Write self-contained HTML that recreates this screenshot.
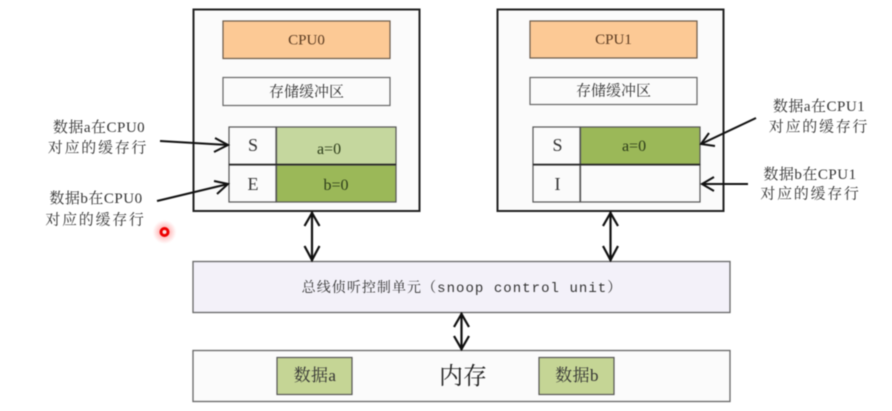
<!DOCTYPE html>
<html>
<head>
<meta charset="utf-8">
<style>
html,body{margin:0;padding:0;background:#fff;width:892px;height:411px;overflow:hidden}
svg{display:block;filter:blur(0.4px)}
text{font-family:"Liberation Serif","Noto Serif CJK SC",serif;fill:#333;text-anchor:middle}
.l1{font-size:15px;letter-spacing:.5px}
.l2{font-size:15px;letter-spacing:1.700px}
</style>
</head>
<body>
<svg width="892" height="411" viewBox="0 0 892 411" xmlns="http://www.w3.org/2000/svg">
<defs>
<radialGradient id="g"><stop offset="0" stop-color="#f55" stop-opacity=".75"/><stop offset=".5" stop-color="#f77" stop-opacity=".4"/><stop offset="1" stop-color="#f88" stop-opacity="0"/></radialGradient>
</defs>
<rect width="892" height="411" fill="#fff"/>

<!-- CPU0 -->
<rect x="193.500" y="9.500" width="226" height="201.500" fill="#fbfbfb" stroke="#222" stroke-width="2"/>
<rect x="223" y="21" width="167" height="37.500" fill="#fcc995" stroke="#6a5a4a" stroke-width="1.200"/>
<text x="306.500" y="44.500" font-size="15" style="fill:#5a3a20">CPU0</text>
<rect x="223" y="77.500" width="167" height="28" fill="#fbfbfb" stroke="#666" stroke-width="1.200"/>
<text x="306.500" y="96.500" font-size="15">存储缓冲区</text>
<rect x="229" y="127" width="47" height="37.500" fill="#fbfbfb" stroke="#555" stroke-width="1.200"/>
<rect x="276.500" y="127" width="119.500" height="37.500" fill="#c5d79e" stroke="#555" stroke-width="1.200"/>
<rect x="229" y="165" width="47" height="37" fill="#fbfbfb" stroke="#555" stroke-width="1.200"/>
<rect x="276.500" y="165" width="119.500" height="37" fill="#9bb858" stroke="#555" stroke-width="1.200"/>
<line x1="229" y1="164.500" x2="396" y2="164.500" stroke="#222" stroke-width="1.500"/>
<text x="253" y="151" font-size="18">S</text>
<text x="253" y="190" font-size="18">E</text>
<text x="329" y="154" font-size="16" style="fill:#2d3d1a">a=0</text>
<text x="336" y="190" font-size="16" style="fill:#2d3d1a">b=0</text>

<!-- CPU1 -->
<rect x="497.500" y="9.500" width="226" height="201.500" fill="#fbfbfb" stroke="#222" stroke-width="2"/>
<rect x="530" y="21" width="167" height="37" fill="#fcc995" stroke="#6a5a4a" stroke-width="1.200"/>
<text x="613.500" y="44" font-size="15" style="fill:#5a3a20">CPU1</text>
<rect x="530" y="77.500" width="167" height="27" fill="#fbfbfb" stroke="#666" stroke-width="1.200"/>
<text x="613.500" y="95.500" font-size="15">存储缓冲区</text>
<rect x="533" y="127" width="47" height="37.500" fill="#fbfbfb" stroke="#555" stroke-width="1.200"/>
<rect x="580.500" y="127" width="119.500" height="37.500" fill="#9bb858" stroke="#555" stroke-width="1.200"/>
<rect x="533" y="165" width="47" height="37" fill="#fbfbfb" stroke="#555" stroke-width="1.200"/>
<rect x="580.500" y="165" width="119.500" height="37" fill="#fbfbfb" stroke="#555" stroke-width="1.200"/>
<line x1="533" y1="164.500" x2="700" y2="164.500" stroke="#222" stroke-width="1.500"/>
<text x="557.500" y="151" font-size="18">S</text>
<text x="557.500" y="190" font-size="18">I</text>
<text x="634" y="151" font-size="16" style="fill:#2d3d1a">a=0</text>

<!-- Left labels -->
<text class="l1" x="99" y="132">数据a在CPU0</text>
<text class="l2" x="98" y="152.500">对应的缓存行</text>
<text class="l1" x="96" y="203">数据b在CPU0</text>
<text class="l2" x="95.500" y="224.500">对应的缓存行</text>
<!-- Right labels -->
<text class="l1" x="819" y="111">数据a在CPU1</text>
<text class="l2" x="819" y="131.500">对应的缓存行</text>
<text class="l1" x="810" y="179">数据b在CPU1</text>
<text class="l2" x="810.500" y="198.500">对应的缓存行</text>

<!-- Label arrows -->
<g fill="none" stroke="#111" stroke-width="2">
<line x1="160" y1="141" x2="228" y2="145"/><path d="M215 138 L228 145 L214 152"/>
<line x1="157" y1="201" x2="228" y2="184"/><path d="M214 181 L228 184 L217 194"/>
<line x1="756" y1="118" x2="701" y2="144"/><path d="M709 133 L701 144 L715 146"/>
<line x1="748" y1="184" x2="702" y2="184"/><path d="M714 177 L702 184 L714 191"/>
</g>

<!-- Bus -->
<rect x="193" y="261.500" width="537" height="51" fill="#f3f1f9" stroke="#666" stroke-width="1.300"/>
<text x="462" y="292" font-size="14" letter-spacing="1.050">总线侦听控制单元（<tspan font-family="Liberation Mono">snoop control unit</tspan>）</text>

<!-- Memory -->
<rect x="193" y="350.500" width="537" height="51" fill="#fbfbfb" stroke="#666" stroke-width="1.300"/>
<rect x="277" y="357.500" width="75" height="37" fill="#c5d595" stroke="#555" stroke-width="1.200"/>
<text x="315" y="381" font-size="17" letter-spacing=".4">数据a</text>
<rect x="539" y="357.500" width="75" height="37" fill="#c5d595" stroke="#555" stroke-width="1.200"/>
<text x="577" y="381" font-size="17" letter-spacing=".4">数据b</text>
<text x="463" y="384" font-size="24" style="fill:#222">内存</text>

<!-- Double arrows -->
<g fill="none" stroke="#111" stroke-width="2.200">
<line x1="312" y1="212" x2="312" y2="261"/><path d="M304.500 226 L312 213 L319.500 226"/><path d="M304.500 246 L312 260 L319.500 246"/>
<line x1="610.500" y1="212" x2="610.500" y2="261"/><path d="M603 226 L610.500 213 L618 226"/><path d="M603 246 L610.500 260 L618 246"/>
<line x1="461.500" y1="313" x2="461.500" y2="350"/><path d="M454 327 L461.500 314 L469 327"/><path d="M454 336 L461.500 349 L469 336"/>
</g>

<!-- Pointer -->
<circle cx="164.500" cy="232" r="12" fill="url(#g)"/>
<circle cx="164.500" cy="232" r="3.500" fill="#f8dede" stroke="#e00" stroke-width="3"/>
</svg>
</body>
</html>
